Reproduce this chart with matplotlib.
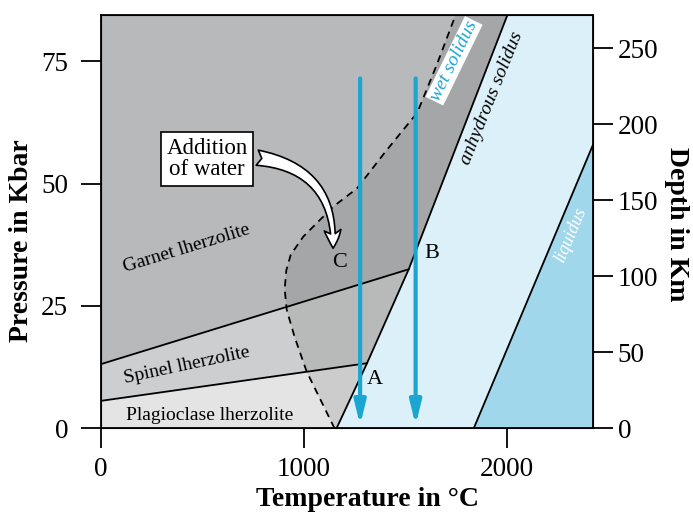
import matplotlib
matplotlib.use('Agg')
import matplotlib.pyplot as plt
from matplotlib.patches import FancyArrowPatch

plt.rcParams['font.family'] = ['Liberation Serif', 'DejaVu Serif']

# phase boundaries, T in degC, P in kbar
anhyd_T = [1160, 1310, 1515, 2000]
anhyd_P = [0, 13.3, 32.5, 84.4]
wet_T = [1150, 1085, 1013, 955, 915, 905, 913, 935, 997, 1062, 1144, 1260, 1400, 1557, 1655, 1745]
wet_P = [0, 5.5, 11.6, 18.5, 24.2, 28.5, 32.3, 35.5, 39.2, 41.9, 45.3, 49.0, 56.5, 64.5, 74.5, 84.4]
liq_T = [1835, 2420]
liq_P = [0, 57.8]
gar_sp_T = [0, 1515]
gar_sp_P = [13.1, 32.5]
sp_pl_T = [0, 1310]
sp_pl_P = [5.6, 13.3]
paths_T = [1276, 1549]
path_P = [71.5, 0.6]

tmax, pmax = 2420, 84.4
km_per_kbar = 3.22

fig = plt.figure(figsize=(6.93, 5.14), dpi=100)
ax = fig.add_axes([100.7/693, 1-428.3/514, 492/693, 413/514])
ax.set_xlim(0, tmax)
ax.set_ylim(0, pmax)

# fields
ax.fill([0, anhyd_T[0], sp_pl_T[1], 0], [0, 0, sp_pl_P[1], sp_pl_P[0]], color='#e4e4e5', lw=0)
ax.fill([0, sp_pl_T[1], gar_sp_T[1], 0], [sp_pl_P[0], sp_pl_P[1], gar_sp_P[1], gar_sp_P[0]], color='#cdcecf', lw=0)
ax.fill([0, gar_sp_T[1], anhyd_T[3], 0], [gar_sp_P[0], gar_sp_P[1], anhyd_P[3], pmax], color='#b8b9bb', lw=0)
ax.fill(anhyd_T + [tmax, tmax, liq_T[0]], anhyd_P + [pmax, liq_P[1], 0], color='#dcf0f9', lw=0)
ax.fill([liq_T[0], tmax, tmax], [0, 0, liq_P[1]], color='#a0d7eb', lw=0)
# partially molten (wet) zone, slightly darker
ax.fill(wet_T + anhyd_T[::-1], wet_P + anhyd_P[::-1], color='k', alpha=0.1, lw=0)

# lines
ax.plot(anhyd_T, anhyd_P, color='k', lw=1.3)
ax.plot(liq_T, liq_P, color='k', lw=1.3)
ax.plot(gar_sp_T, gar_sp_P, color='k', lw=1.3)
ax.plot(sp_pl_T, sp_pl_P, color='k', lw=1.3)
ax.plot(wet_T, wet_P, color='k', lw=1.3, ls=(0, (4, 3)))

# decompression paths
for t in paths_T:
    ax.annotate('', xy=(t, path_P[1]), xytext=(t, path_P[0]),
                arrowprops=dict(arrowstyle='-|>,head_length=0.7,head_width=0.17',
                                color='#1ba6d1', lw=3, mutation_scale=20,
                                shrinkA=0, shrinkB=0), zorder=4)

# labels inside
ax.text(420, 36.8, 'Garnet lherzolite', fontsize=14, rotation=17, ha='center', va='center')
ax.text(423, 12.9, 'Spinel lherzolite', fontsize=14, rotation=12, ha='center', va='center')
ax.text(538, 2.6, 'Plagioclase lherzolite', fontsize=14, ha='center', va='center')
ax.text(1350, 9.9, 'A', fontsize=16, ha='center', va='center')
ax.text(1628, 35.8, 'B', fontsize=16, ha='center', va='center')
ax.text(1177, 33.8, 'C', fontsize=16, ha='center', va='center')
ax.text(1738, 75.1, 'wet solidus', fontsize=14, style='italic', color='#1ba6d1', rotation=64,
        ha='center', va='center', bbox=dict(fc='white', ec='none', pad=1))
ax.text(1922, 67.5, 'anhydrous solidus', fontsize=14, style='italic', rotation=68,
        ha='center', va='center')
ax.text(2309, 39.5, 'liquidus', fontsize=13, style='italic', color='white', rotation=67,
        ha='center', va='center')

ax.text(523, 55.0, 'Addition\nof water', fontsize=16.5, ha='center', va='center', linespacing=1.0,
        bbox=dict(fc='white', ec='k', lw=1.2, boxstyle='square,pad=0.25'), zorder=6)
arr = FancyArrowPatch(posA=(770, 55.3), posB=(1143, 36.8), connectionstyle='arc3,rad=-0.45',
                      arrowstyle='fancy,head_length=0.65,head_width=0.6,tail_width=0.55',
                      mutation_scale=20, fc='white', ec='k', lw=1.2, shrinkA=0, shrinkB=0, zorder=5)
ax.add_patch(arr)

# axes
ax.set_xticks([0, 1000, 2000])
ax.set_yticks([0, 25, 50, 75])
ax.tick_params(direction='out', length=14.5, width=1.3, labelsize=19.5)
ax.tick_params(axis='y', pad=9)
ax.tick_params(axis='x', pad=6)
for s in ax.spines.values():
    s.set_linewidth(1.3)

ax2 = ax.twinx()
ax2.set_ylim(0, pmax*km_per_kbar)
ax2.set_yticks([0, 50, 100, 150, 200, 250])
ax2.tick_params(direction='out', length=14.5, width=1.3, labelsize=19.5, pad=3.5)

ax.set_xlabel('Temperature in °C', fontsize=20, fontweight='bold', va='center')
ax.xaxis.set_label_coords(0.543, -0.1736)
ax.set_ylabel('Pressure in Kbar', fontsize=20, fontweight='bold', va='center')
ax.yaxis.set_label_coords(-0.160, 0.4535)
ax2.set_ylabel('Depth in Km', fontsize=20, fontweight='bold', rotation=270, va='center')
ax2.yaxis.set_label_coords(1.171, 0.4947)

fig.savefig('out.png', dpi=100)
